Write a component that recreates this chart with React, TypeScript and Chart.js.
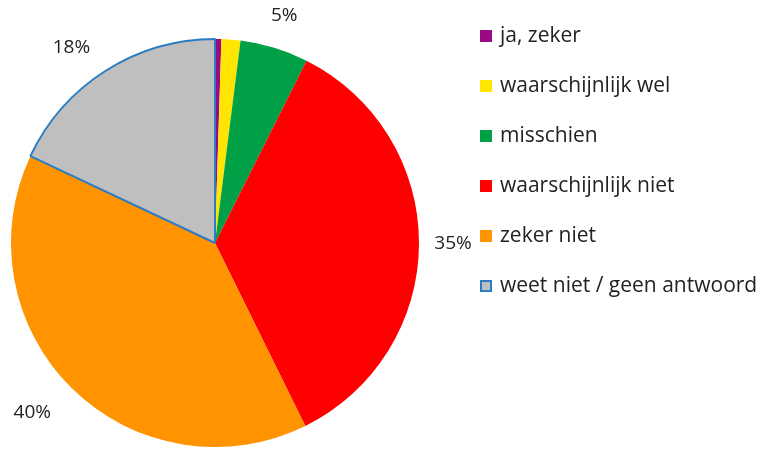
import React, { useEffect, useRef } from "react";
import { Chart, registerables } from "chart.js";

Chart.register(...registerables);

const categories = ["ja, zeker", "waarschijnlijk wel", "misschien", "waarschijnlijk niet", "zeker niet", "weet niet / geen antwoord"];
const values = [0.5, 1.5, 5.4, 35.3, 39.3, 18.0];
const shownLabels = ["", "", "5%", "35%", "40%", "18%"];
const fillColors = ["#9a0a84", "#ffe500", "#00a046", "#ff0000", "#ff9300", "#bfbfbf"];
const edgeColors = ["#9a0a84", "#ffe500", "#00a046", "#ff0000", "#ff9300", "#2a7dc2"];
const edgeWidths = [0, 0, 0, 0, 0, 2];

const FONT = "'Open Sans', Lato, sans-serif";

const overlayPlugin = {
  id: "overlay",
  afterDraw(chart: any) {
    const ctx = chart.ctx;
    const meta = chart.getDatasetMeta(0);
    ctx.save();
    ctx.fillStyle = "#222";
    ctx.font = `19px ${FONT}`;
    ctx.textAlign = "center";
    ctx.textBaseline = "middle";
    meta.data.forEach((arc: any, i: number) => {
      const t = shownLabels[i];
      if (!t) return;
      const mid = (arc.startAngle + arc.endAngle) / 2;
      const c = Math.cos(mid), s = Math.sin(mid);
      const r = arc.outerRadius + 34;
      const extra = c < -0.3 ? 16 : 0;
      ctx.fillText(t, arc.x + c * r - extra, arc.y + s * r + (s < -0.5 && c < 0 ? 6 : 0));
    });
    // legend
    const lx = 480, ly0 = 36, step = 50;
    ctx.font = `21px ${FONT}`;
    categories.forEach((cat, i) => {
      const y = ly0 + i * step;
      ctx.fillStyle = fillColors[i];
      ctx.fillRect(lx, y - 6, 12, 12);
      if (edgeWidths[i] > 0) {
        ctx.strokeStyle = edgeColors[i];
        ctx.lineWidth = 2;
        ctx.strokeRect(lx + 1, y - 5, 10, 10);
      }
      ctx.fillStyle = "#222";
      ctx.textAlign = "left";
      ctx.fillText(cat, 500, y);
    });
    ctx.restore();
  },
};

export default function App() {
  const ref = useRef<HTMLCanvasElement>(null);
  useEffect(() => {
    const chart = new Chart(ref.current!, {
      type: "pie",
      data: {
        labels: categories,
        datasets: [
          {
            data: values,
            backgroundColor: fillColors,
            borderColor: edgeColors,
            borderWidth: edgeWidths,
          },
        ],
      },
      options: {
        animation: false,
        responsive: false,
        layout: { padding: { left: 10, right: 343, top: 38, bottom: 1 } },
        plugins: { legend: { display: false }, tooltip: { enabled: false } },
      },
      plugins: [overlayPlugin],
    });
    return () => chart.destroy();
  }, []);
  return (
    <div style={{ position: "absolute", left: 0, top: 0, width: 763, height: 449, background: "#fff" }}>
      <canvas ref={ref} width={763} height={449} />
    </div>
  );
}
